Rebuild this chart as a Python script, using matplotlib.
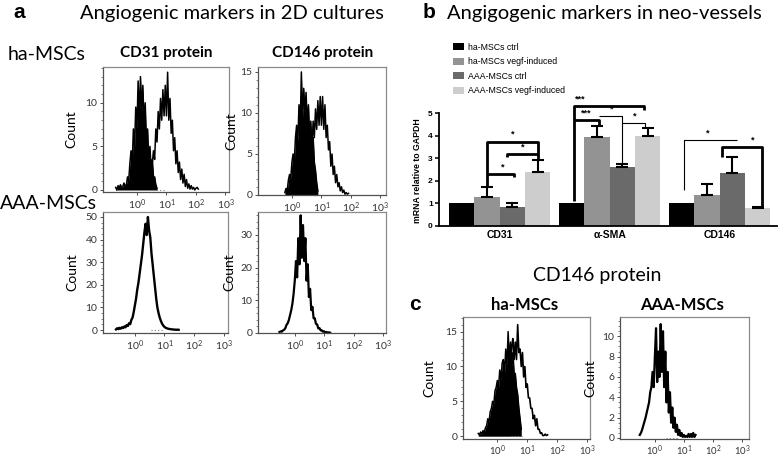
import numpy as np
import matplotlib
matplotlib.use('Agg')
import matplotlib.pyplot as plt
from matplotlib.ticker import LogLocator, NullFormatter, MultipleLocator
from matplotlib.patches import Patch

plt.rcParams['mathtext.fontset'] = 'custom'
plt.rcParams['mathtext.rm'] = 'Lato'
plt.rcParams['mathtext.it'] = 'Lato:italic'
plt.rcParams['mathtext.bf'] = 'Lato:bold'

# ---------------- data ----------------
# flow-cytometry histograms: counts per log10 bin (bin width 0.04 decade)
STEP = 0.04
a1_ctrl_start = -0.72
a1_ctrl = [0.3, 0.0, 0.5, 0.2, 0.6, 0.3, 0.4, 0.8, 0.5,
           0.5, 1.5, 1.0, 3.0, 4.5, 3.0, 7.0, 5.0, 9.5, 7.0, 12.5, 8.5, 13.0, 9.0,
           12.0, 7.5, 10.0, 5.5, 7.0, 3.5, 5.0, 2.5, 3.5, 1.5, 1.5, 0.6, 0.2]
a1_stain_start = 0.40
a1_stain = [0.3, 1.0, 1.5, 3.0, 4.5, 3.5, 7.0, 5.5, 9.0, 7.0, 10.5, 8.0, 11.5, 8.5,
            12.0, 8.5, 13.5, 8.0, 10.5, 6.5, 8.0, 4.5, 6.0, 3.0, 4.5, 2.0, 3.2, 1.2,
            2.4, 0.8, 1.8, 0.4, 1.2, 0.2, 0.7, 0.1, 0.5, 0.1, 0.3, 0.0, 0.2, 0.3, 0.1]
a2_ctrl_start = -0.24
a2_ctrl = [0.3, 0.8, 0.5, 1.8, 2.5, 2.0, 4.0, 5.0, 4.0, 7.0, 8.5, 6.5, 11.0, 8.0,
           15.0, 9.5, 13.0, 10.0, 12.5, 8.5, 11.0, 7.0, 9.0, 5.5, 7.0, 4.0, 3.0, 1.5, 0.5]
a2_stain_start = 0.52
a2_stain = [3.0, 4.5, 6.0, 7.5, 6.0, 9.0, 7.0, 10.5, 8.0, 11.5, 8.5, 12.0, 8.5, 12.0,
            8.0, 11.0, 7.0, 8.5, 5.5, 6.5, 3.5, 5.0, 2.5, 3.5, 1.5, 2.5, 1.0, 1.5, 0.5,
            1.0, 0.3, 0.6, 0.1, 0.3, 0.1, 0.2]
a3_start = -0.64
a3 = [0.3, 0.8, 0.4, 1.0, 0.6, 1.2, 0.9, 1.6, 1.2, 2.2, 1.8, 3.0, 2.6, 4.5, 5.5, 8.0,
      11.0, 14.0, 18.0, 21.0, 25.0, 29.0, 33.0, 38.0, 43.0, 47.0, 42.0, 50.0, 44.0,
      41.0, 34.0, 29.0, 24.0, 19.0, 14.0, 10.0, 7.5, 5.5, 4.0, 2.8, 2.0, 1.4, 1.0,
      0.8, 0.6, 0.5, 0.4, 0.3, 0.3, 0.2, 0.2, 0.1, 0.2, 0.1]
a4_start = -0.52
a4 = [0.3, 0.5, 0.4, 0.8, 1.0, 1.5, 2.5, 3.0, 4.0, 5.5, 7.0, 9.0, 12.0, 16.0, 22.0,
      17.0, 29.0, 21.0, 36.0, 23.0, 33.0, 22.0, 29.0, 16.0, 21.0, 11.0, 13.5, 7.0,
      8.0, 4.5, 4.5, 2.8, 2.6, 1.4, 1.5, 0.8, 0.8, 0.4, 0.5, 0.2, 0.3, 0.1, 0.2, 0.1]
c1_ctrl_start = -0.64
c1_ctrl = [0.4, 0.2, 0.6, 0.3, 0.8, 0.5, 1.2, 1.5, 2.5, 2.0, 3.5, 4.0, 5.0, 4.5, 6.5,
           7.0, 8.0, 7.0, 9.5, 8.0, 10.5, 11.0, 9.0, 12.5, 10.0, 15.0, 11.0, 13.5,
           10.0, 12.0, 9.0, 9.0, 7.0, 6.0, 4.0, 2.5, 1.0]
c1_stain_start = 0.40
c1_stain = [12.0, 10.0, 13.0, 14.0, 11.0, 13.5, 11.0, 16.0, 12.0, 12.5, 10.0, 12.0,
            8.5, 10.0, 7.0, 7.5, 5.5, 5.5, 4.0, 4.0, 2.5, 3.0, 1.5, 2.5, 1.0, 1.0,
            0.4, 0.5, 0.1, 0.1, 0.3, 0.1, 0.2]
c2_start = -0.52
c2 = [0.3, 0.5, 0.8, 1.2, 1.6, 2.0, 2.5, 3.0, 3.5, 4.5, 5.0, 6.5, 5.0, 8.0, 10.8,
      5.5, 8.5, 6.0, 11.2, 6.5, 10.5, 5.0, 8.5, 3.5, 6.5, 2.5, 4.5, 1.5, 3.0, 1.0,
      2.0, 0.6, 1.3, 0.3, 0.8, 0.2, 0.5, 0.1, 0.3, 0.1, 0.2, 0.1, 0.4, 0.1, 0.4,
      0.1, 0.5, 0.1, 0.3]
# gate markers drawn as dotted baseline (log10 range) per histogram
gates = {'a1': (0.55, 1.0), 'a2': (0.55, 1.1), 'a3': (0.55, 1.0),
         'a4': (0.3, 0.9), 'c1': (0.45, 0.9), 'c2': (0.4, 0.8)}

# qPCR bar chart
genes = ['CD31', 'α-SMA', 'CD146']
series_labels = ['ha-MSCs ctrl', 'ha-MSCs vegf-induced', 'AAA-MSCs ctrl',
                 'AAA-MSCs vegf-induced']
ha_ctrl = [1.0, 1.0, 1.0]
ha_vegf = [1.30, 3.96, 1.38]
aaa_ctrl = [0.86, 2.63, 2.34]
aaa_vegf = [2.37, 3.99, 0.78]
ha_ctrl_err = [0.0, 0.0, 0.0]
ha_vegf_err = [0.42, 0.45, 0.48]
aaa_ctrl_err = [0.17, 0.11, 0.71]
aaa_vegf_err = [0.53, 0.34, 0.05]
bar_colors = ['#000000', '#939393', '#6a6a6a', '#cdcdcd']

# ---------------- figure ----------------
W, H = 778, 458
fig = plt.figure(figsize=(W / 100, H / 100), dpi=100)
fig.patch.set_facecolor('white')


def box(x0, y0, x1, y1):
    return fig.add_axes([x0 / W, 1 - y1 / H, (x1 - x0) / W, (y1 - y0) / H])


CAL = 'Lato'
ARI = 'Liberation Sans'


def hist(ax, start, vals, filled=False, lw=1.1):
    x = 10 ** (start + STEP * np.arange(len(vals)))
    if filled:
        ax.fill_between(x, 0, vals, color='black', lw=0)
    ax.plot(x, vals, color='black', lw=lw)


def style_hist(ax, key, xlim, ylim, yticks, yminor, lab_x, xlsize=7.5, xpad=1.5):
    g0, g1 = gates[key]
    ax.plot([10 ** g0, 10 ** g1], [0, 0], ls=(0, (1, 2)), color='#777777',
            lw=0.8, zorder=5)
    ax.set_xscale('log')
    ax.set_xlim(10 ** xlim[0], 10 ** xlim[1])
    ax.set_ylim(*ylim)
    ax.set_xticks([1, 10, 100, 1000])
    ax.set_xticklabels([r'$10^0$', r'$10^1$', r'$10^2$', r'$10^3$'])
    ax.xaxis.set_minor_locator(LogLocator(subs=np.arange(2, 10)))
    ax.xaxis.set_minor_formatter(NullFormatter())
    ax.set_yticks(yticks)
    ax.yaxis.set_minor_locator(MultipleLocator(yminor))
    for lbl in ax.get_yticklabels() + ax.get_xticklabels():
        lbl.set_fontfamily(CAL)
    ax.tick_params(which='major', labelsize=7.5, length=2.5, width=0.6,
                   pad=1.5, colors='#333333')
    ax.tick_params(axis='x', which='major', labelsize=xlsize, pad=xpad)
    ax.tick_params(which='minor', length=1.3, width=0.5, colors='#555555')
    for s in ['top', 'right']:
        ax.spines[s].set_color('#8a8a8a')
        ax.spines[s].set_linewidth(0.9)
    for s in ['left', 'bottom']:
        ax.spines[s].set_color('#505050')
        ax.spines[s].set_linewidth(0.9)
    ax.set_ylabel('Count', fontsize=10, fontfamily=CAL)
    ax.yaxis.set_label_coords(lab_x, 0.5)


# panel a
ax1 = box(103, 67, 229, 192)
hist(ax1, a1_ctrl_start, a1_ctrl, filled=True)
hist(ax1, a1_stain_start, a1_stain)
style_hist(ax1, 'a1', (-1.15, 3.12), (-0.23, 14.1), [0, 5, 10], 1, -0.2)

ax2 = box(258, 67, 386, 195)
hist(ax2, a2_ctrl_start, a2_ctrl, filled=True)
hist(ax2, a2_stain_start, a2_stain)
style_hist(ax2, 'a2', (-1.15, 3.19), (0, 15.6), [0, 5, 10, 15], 1, -0.16)

ax3 = box(103, 212, 228, 333)
hist(ax3, a3_start, a3, lw=1.7)
style_hist(ax3, 'a3', (-1.08, 3.15), (-1.3, 52.2), [0, 10, 20, 30, 40, 50], 2.5, -0.2)

ax4 = box(258, 212, 386, 333)
hist(ax4, a4_start, a4, lw=1.6)
style_hist(ax4, 'a4', (-1.25, 3.1), (0, 37), [0, 10, 20, 30], 2, -0.18)

# panel c
ax5 = box(463, 317, 590, 439)
hist(ax5, c1_ctrl_start, c1_ctrl, filled=True)
hist(ax5, c1_stain_start, c1_stain, lw=1.2)
style_hist(ax5, 'c1', (-1.15, 3.1), (-0.4, 17.1), [0, 5, 10, 15], 1, -0.22,
           xlsize=6.8, xpad=0.6)

ax6 = box(620, 317, 749, 439)
hist(ax6, c2_start, c2, lw=1.6)
style_hist(ax6, 'c2', (-1.2, 3.24), (-0.1, 11.9), [0, 2, 4, 6, 8, 10], 0.5, -0.18,
           xlsize=6.8, xpad=0.6)

# panel b: bar chart
axb = box(439, 95, 777, 226)
xg = np.arange(len(genes))
bw = 0.23
vals = [ha_ctrl, ha_vegf, aaa_ctrl, aaa_vegf]
errs = [ha_ctrl_err, ha_vegf_err, aaa_ctrl_err, aaa_vegf_err]
for k in range(4):
    xs = xg + (k - 1.5) * bw
    axb.bar(xs, vals[k], bw, color=bar_colors[k], edgecolor='none', zorder=2)
    e = np.array(errs[k])
    m = e > 0
    axb.errorbar(xs[m], np.array(vals[k])[m], yerr=[np.zeros(m.sum()), e[m]],
                 fmt='none', ecolor='black', elinewidth=1.5, capsize=4.5,
                 capthick=1.5, zorder=3)
axb.set_xlim(-0.55, 2.52)
axb.set_ylim(0, 5.8)
axb.spines['top'].set_visible(False)
axb.spines['right'].set_visible(False)
axb.spines['left'].set_bounds(0, 5)
axb.spines['left'].set_linewidth(1.3)
axb.spines['bottom'].set_linewidth(1.3)
axb.set_yticks([0, 1, 2, 3, 4, 5])
axb.set_xticks(xg)
axb.set_xticklabels(genes, fontfamily=ARI, fontweight='bold', fontsize=7.5)
for lbl in axb.get_yticklabels():
    lbl.set_fontfamily(ARI)
    lbl.set_fontweight('bold')
axb.tick_params(axis='y', labelsize=6, length=3, width=1.1, pad=1.5)
axb.tick_params(axis='x', length=0, pad=3)
axb.set_ylabel('mRNA relative to GAPDH', fontfamily=ARI, fontweight='bold',
               fontsize=6.3)
axb.yaxis.set_label_coords(-0.05, 0.42)

# significance brackets (annotation): (polyline points, linewidth), stars
brackets = [
    ([(-0.118, 1.72), (-0.118, 3.72), (0.345, 3.72), (0.345, 2.9)], 2.0),
    ([(0.064, 3.05), (0.064, 3.19), (0.345, 3.19)], 2.0),
    ([(-0.118, 2.3), (0.127, 2.3), (0.127, 2.15)], 2.0),
    ([(0.673, 1.12), (0.673, 5.31), (1.31, 5.31), (1.31, 5.15)], 2.0),
    ([(0.673, 4.69), (0.9, 4.69), (0.9, 4.42)], 2.0),
    ([(0.9, 4.87), (1.11, 4.87), (1.11, 2.75)], 0.8),
    ([(1.11, 4.55), (1.32, 4.55), (1.32, 4.34)], 0.8),
    ([(1.673, 1.59), (1.673, 3.81), (2.155, 3.81)], 0.8),
    ([(2.02, 3.05), (2.02, 3.5), (2.38, 3.5), (2.38, 0.84)], 2.0),
]
stars = [(0.118, 3.85, '*'), (0.21, 3.3, '*'), (0.027, 2.4, '*'),
         (0.73, 5.42, '***'), (0.79, 4.8, '***'), (1.02, 4.98, '*'),
         (1.23, 4.66, '*'), (1.89, 3.92, '*'), (2.3, 3.62, '*')]
for pts, lw in brackets:
    p = np.array(pts)
    axb.plot(p[:, 0], p[:, 1], color='black', lw=lw, clip_on=False,
             solid_capstyle='butt', zorder=4)
for sx, sy, s in stars:
    axb.text(sx, sy, s, ha='center', va='bottom', fontsize=6.5,
             fontweight='bold', fontfamily=ARI)

handles = [Patch(facecolor=c, edgecolor='none') for c in bar_colors]
axb.legend(handles, series_labels, loc='upper left',
           bbox_to_anchor=(453 / W, 1 - 43 / H), bbox_transform=fig.transFigure,
           frameon=False, prop={'family': ARI, 'size': 6.3},
           handlelength=1.25, handleheight=0.85, labelspacing=0.62,
           handletextpad=0.45, borderaxespad=0, borderpad=0)

# ---------------- texts ----------------
def ftext(x, y, s, **kw):
    fig.text(x / W, 1 - y / H, s, **kw)


ftext(13, 13, 'a', fontfamily=ARI, fontweight='bold', fontsize=15, va='center')
ftext(80, 13, 'Angiogenic markers in 2D cultures', fontfamily=CAL, fontsize=14.5,
      va='center')
ftext(423, 13, 'b', fontfamily=ARI, fontweight='bold', fontsize=15, va='center')
ftext(447, 13, 'Angigogenic markers in neo-vessels', fontfamily=CAL, fontsize=14.5,
      va='center')
ftext(8, 55, 'ha-MSCs', fontfamily=CAL, fontsize=14, va='center')
ftext(0, 204, 'AAA-MSCs', fontfamily=CAL, fontsize=14, va='center')
ftext(166, 53, 'CD31 protein', fontfamily=CAL, fontweight='bold', fontsize=11,
      ha='center', va='center')
ftext(323, 53, 'CD146 protein', fontfamily=CAL, fontweight='bold', fontsize=11,
      ha='center', va='center')
ftext(597, 275, 'CD146 protein', fontfamily=CAL, fontsize=14, ha='center',
      va='center')
ftext(409, 305, 'c', fontfamily=ARI, fontweight='bold', fontsize=15, va='center')
ftext(525, 305, 'ha-MSCs', fontfamily=CAL, fontweight='bold', fontsize=12,
      ha='center', va='center')
ftext(682, 305, 'AAA-MSCs', fontfamily=CAL, fontweight='bold', fontsize=12,
      ha='center', va='center')

fig.savefig('out.png', dpi=100, facecolor='white')
